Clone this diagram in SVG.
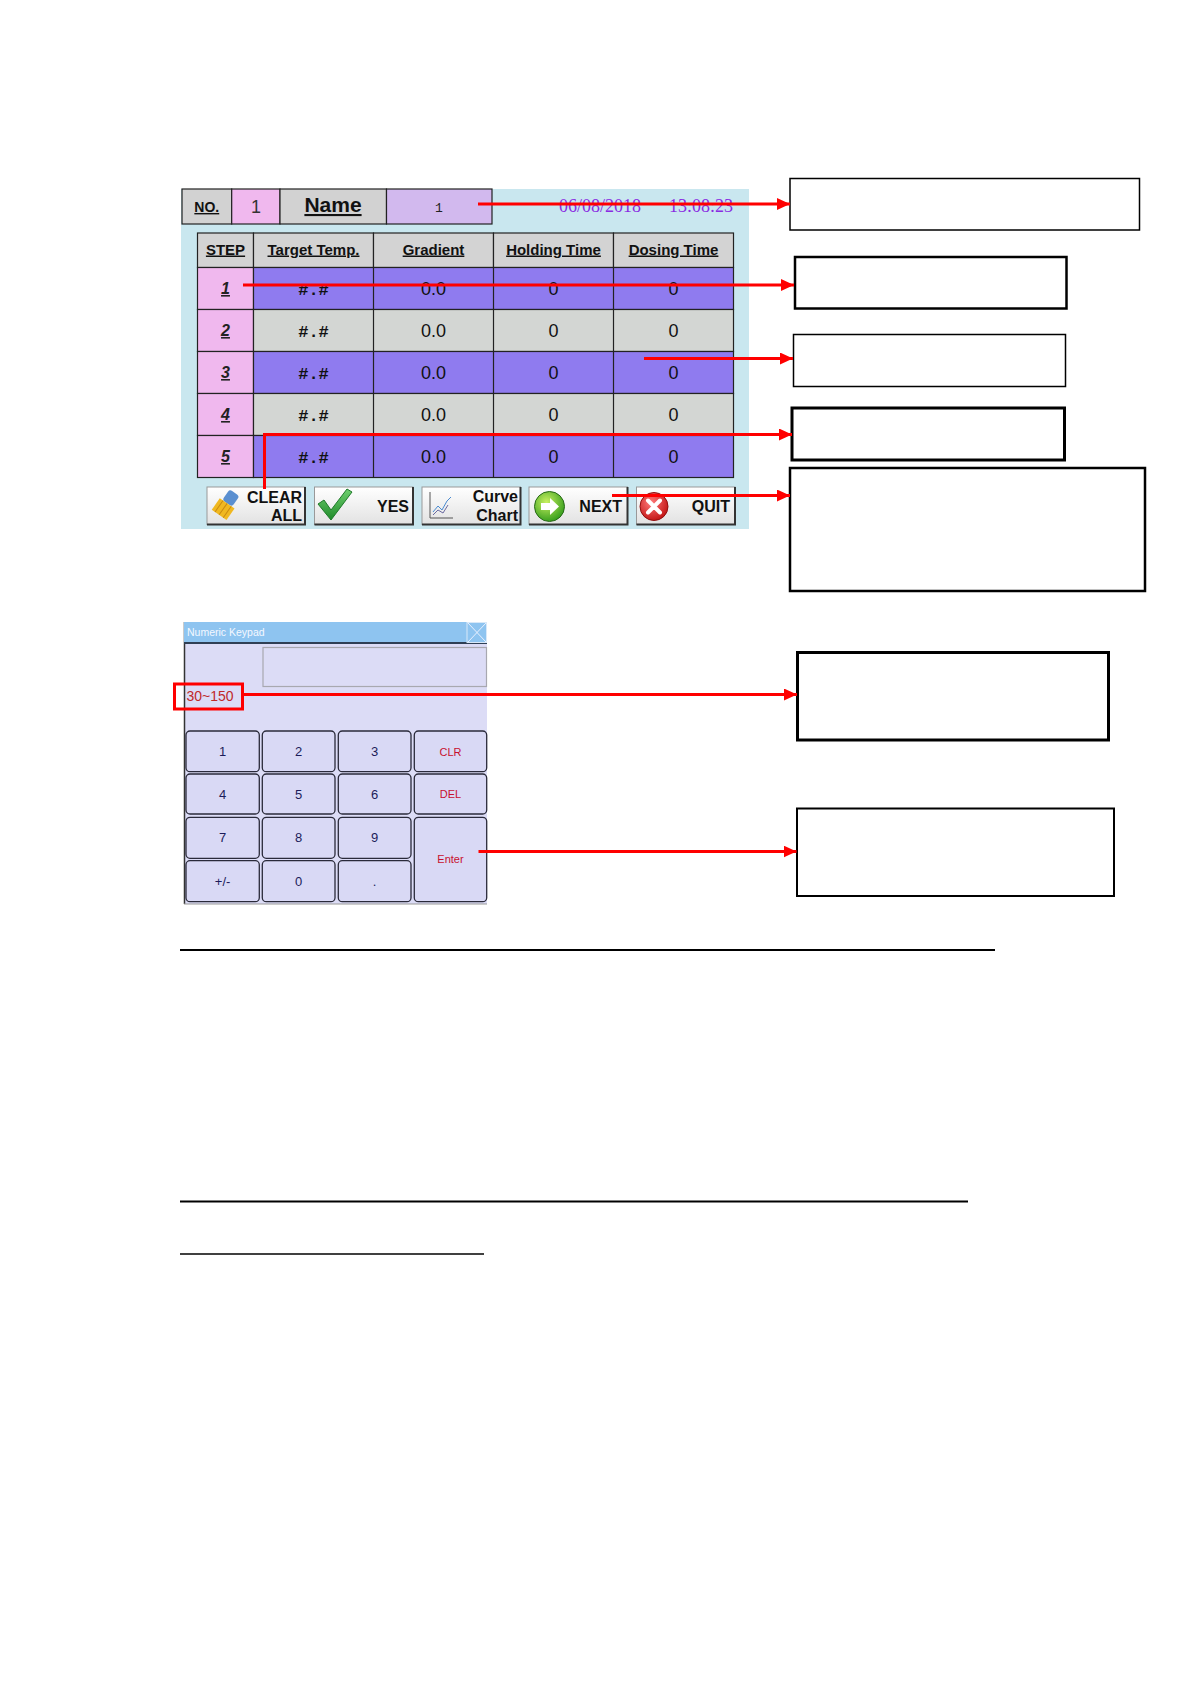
<svg xmlns="http://www.w3.org/2000/svg" width="1191" height="1684" viewBox="0 0 1191 1684">
<style>
.sans{font-family:"Liberation Sans",Arial,sans-serif}
.hd{font-family:"Liberation Sans",Arial,sans-serif;font-weight:bold;font-size:15px;text-decoration:underline;fill:#111;text-anchor:middle}
.step{font-family:"Liberation Sans",Arial,sans-serif;font-weight:bold;font-style:italic;font-size:16px;text-decoration:underline;fill:#222;text-anchor:middle}
.val{font-family:"Liberation Sans",Arial,sans-serif;font-size:18px;fill:#111;text-anchor:middle}
.hash{font-family:"Liberation Mono","Courier New",monospace;font-weight:bold;font-size:17px;fill:#111;text-anchor:middle}
.cell{stroke:#222;stroke-width:1.2}
.btn{fill:url(#bg);stroke:#999;stroke-width:1}
.btxt{font-family:"Liberation Sans",Arial,sans-serif;font-weight:bold;font-size:16px;fill:#111;text-anchor:end}
.key{fill:#d9d9f5;stroke:#2a2a3a;stroke-width:1.3}
.kt{font-family:"Liberation Sans",Arial,sans-serif;font-size:13px;fill:#1c1c5a;text-anchor:middle}
.kr{font-family:"Liberation Sans",Arial,sans-serif;font-size:11px;fill:#c8102e;text-anchor:middle}
.red{stroke:#f00;stroke-width:3;fill:none}
.box{fill:#fff;stroke:#000}
</style>
<defs>
<marker id="ah" markerWidth="13" markerHeight="12" refX="13" refY="6" orient="auto" markerUnits="userSpaceOnUse">
<path d="M0,0 L13,6 L0,12 z" fill="#f00"/>
</marker>
<linearGradient id="bg" x1="0" y1="0" x2="0" y2="1">
<stop offset="0" stop-color="#ffffff"/>
<stop offset="1" stop-color="#e2e2e2"/>
</linearGradient>
<linearGradient id="cg" x1="0" y1="0" x2="0" y2="1">
<stop offset="0" stop-color="#6fd06f"/>
<stop offset="1" stop-color="#1f8a2a"/>
</linearGradient>
<radialGradient id="gg" cx="0.4" cy="0.35" r="0.7">
<stop offset="0" stop-color="#c8f060"/>
<stop offset="1" stop-color="#2f9a1a"/>
</radialGradient>
<radialGradient id="rg" cx="0.4" cy="0.35" r="0.7">
<stop offset="0" stop-color="#ff7a7a"/>
<stop offset="1" stop-color="#c01010"/>
</radialGradient>
</defs>
<rect x="0" y="0" width="1191" height="1684" fill="#fff"/>

<g id="screen-panel">
<rect x="181" y="189" width="568" height="340" fill="#c9e7ef"/>
</g>

<g id="header-row">
<rect x="182" y="189" width="49.7" height="35" fill="#d2d2d2" class="cell"/>
<rect x="231.7" y="189" width="48.3" height="35" fill="#f0b8ee" class="cell"/>
<rect x="280" y="189" width="106.5" height="35" fill="#d2d2d2" class="cell"/>
<rect x="386.5" y="189" width="105.5" height="35" fill="#d2b9ee" class="cell"/>
<text x="206.8" y="212" class="sans" font-size="14" font-weight="bold" text-decoration="underline" text-anchor="middle" fill="#111">NO.</text>
<text x="256" y="213" class="sans" font-size="18" text-anchor="middle" fill="#333">1</text>
<text x="333" y="212" class="sans" font-size="21" font-weight="bold" text-decoration="underline" text-anchor="middle" fill="#111">Name</text>
<text x="439" y="212" font-family="Liberation Mono,monospace" font-size="13" text-anchor="middle" fill="#222">1</text>
</g>

<g id="datetime">
<text x="559" y="212" font-family="Liberation Serif,'Times New Roman',serif" font-size="18" fill="#8a2be2">06/08/2018</text>
<text x="669" y="212" font-family="Liberation Serif,'Times New Roman',serif" font-size="18" fill="#8a2be2">13:08:23</text>
</g>

<g id="step-table">
<rect x="197.5" y="233" width="56" height="34.5" fill="#d3d3d3" class="cell"/>
<rect x="253.5" y="233" width="120" height="34.5" fill="#d3d3d3" class="cell"/>
<rect x="373.5" y="233" width="120" height="34.5" fill="#d3d3d3" class="cell"/>
<rect x="493.5" y="233" width="120" height="34.5" fill="#d3d3d3" class="cell"/>
<rect x="613.5" y="233" width="120" height="34.5" fill="#d3d3d3" class="cell"/>
<text x="225.5" y="254.5" class="hd">STEP</text>
<text x="313.5" y="254.5" class="hd">Target Temp.</text>
<text x="433.5" y="254.5" class="hd">Gradient</text>
<text x="553.5" y="254.5" class="hd">Holding Time</text>
<text x="673.5" y="254.5" class="hd">Dosing Time</text>

<g id="row1">
<rect x="197.5" y="267.5" width="56" height="42" fill="#f0b8ee" class="cell"/>
<rect x="253.5" y="267.5" width="480" height="42" fill="#8f7bef" class="cell"/>
<line x1="373.5" y1="267.5" x2="373.5" y2="309.5" class="cell"/><line x1="493.5" y1="267.5" x2="493.5" y2="309.5" class="cell"/><line x1="613.5" y1="267.5" x2="613.5" y2="309.5" class="cell"/>
<text x="225.5" y="294" class="step">1</text>
<text x="313.5" y="295" class="hash">#.#</text><text x="433.5" y="295" class="val">0.0</text><text x="553.5" y="295" class="val">0</text><text x="673.5" y="295" class="val">0</text>
</g>
<g id="row2">
<rect x="197.5" y="309.5" width="56" height="42" fill="#f0b8ee" class="cell"/>
<rect x="253.5" y="309.5" width="480" height="42" fill="#d3d6d3" class="cell"/>
<line x1="373.5" y1="309.5" x2="373.5" y2="351.5" class="cell"/><line x1="493.5" y1="309.5" x2="493.5" y2="351.5" class="cell"/><line x1="613.5" y1="309.5" x2="613.5" y2="351.5" class="cell"/>
<text x="225.5" y="336" class="step">2</text>
<text x="313.5" y="337" class="hash">#.#</text><text x="433.5" y="337" class="val">0.0</text><text x="553.5" y="337" class="val">0</text><text x="673.5" y="337" class="val">0</text>
</g>
<g id="row3">
<rect x="197.5" y="351.5" width="56" height="42" fill="#f0b8ee" class="cell"/>
<rect x="253.5" y="351.5" width="480" height="42" fill="#8f7bef" class="cell"/>
<line x1="373.5" y1="351.5" x2="373.5" y2="393.5" class="cell"/><line x1="493.5" y1="351.5" x2="493.5" y2="393.5" class="cell"/><line x1="613.5" y1="351.5" x2="613.5" y2="393.5" class="cell"/>
<text x="225.5" y="378" class="step">3</text>
<text x="313.5" y="379" class="hash">#.#</text><text x="433.5" y="379" class="val">0.0</text><text x="553.5" y="379" class="val">0</text><text x="673.5" y="379" class="val">0</text>
</g>
<g id="row4">
<rect x="197.5" y="393.5" width="56" height="42" fill="#f0b8ee" class="cell"/>
<rect x="253.5" y="393.5" width="480" height="42" fill="#d3d6d3" class="cell"/>
<line x1="373.5" y1="393.5" x2="373.5" y2="435.5" class="cell"/><line x1="493.5" y1="393.5" x2="493.5" y2="435.5" class="cell"/><line x1="613.5" y1="393.5" x2="613.5" y2="435.5" class="cell"/>
<text x="225.5" y="420" class="step">4</text>
<text x="313.5" y="421" class="hash">#.#</text><text x="433.5" y="421" class="val">0.0</text><text x="553.5" y="421" class="val">0</text><text x="673.5" y="421" class="val">0</text>
</g>
<g id="row5">
<rect x="197.5" y="435.5" width="56" height="42" fill="#f0b8ee" class="cell"/>
<rect x="253.5" y="435.5" width="480" height="42" fill="#8f7bef" class="cell"/>
<line x1="373.5" y1="435.5" x2="373.5" y2="477.5" class="cell"/><line x1="493.5" y1="435.5" x2="493.5" y2="477.5" class="cell"/><line x1="613.5" y1="435.5" x2="613.5" y2="477.5" class="cell"/>
<text x="225.5" y="462" class="step">5</text>
<text x="313.5" y="463" class="hash">#.#</text><text x="433.5" y="463" class="val">0.0</text><text x="553.5" y="463" class="val">0</text><text x="673.5" y="463" class="val">0</text>
</g>
</g>

<g id="btn-clear-all">
<rect x="207" y="487" width="98" height="37.5" class="btn"/>
<polyline points="207,524.5 305,524.5 305,487" fill="none" stroke="#333" stroke-width="2"/>
<g transform="rotate(35 226 505)">
<rect x="220" y="490" width="12" height="13" rx="3" fill="#5a8fd0"/>
<rect x="217" y="503" width="18" height="14" fill="#f0b820"/>
<line x1="221" y1="503" x2="221" y2="517" stroke="#c88a10"/><line x1="226" y1="503" x2="226" y2="517" stroke="#c88a10"/><line x1="231" y1="503" x2="231" y2="517" stroke="#c88a10"/>
</g>
<text x="302" y="503" class="btxt">CLEAR</text>
<text x="302" y="521" class="btxt">ALL</text>
</g>
<g id="btn-yes">
<rect x="314.5" y="487" width="98.5" height="37.5" class="btn"/>
<polyline points="314.5,524.5 413,524.5 413,487" fill="none" stroke="#333" stroke-width="2"/>
<path d="M318,504 L324,500 L331,510 L347,489 L352,492 L331,520 z" fill="url(#cg)" stroke="#1f7a2a" stroke-width="1" stroke-linejoin="round"/>
<text x="409" y="512" class="btxt">YES</text>
</g>
<g id="btn-curve-chart">
<rect x="422" y="487" width="98.5" height="37.5" class="btn"/>
<polyline points="422,524.5 520.5,524.5 520.5,487" fill="none" stroke="#333" stroke-width="2"/>
<polyline points="430,492 430,518 453,518" fill="none" stroke="#555" stroke-width="1"/>
<polyline points="433,512 438,506 442,510 447,501 451,497" fill="none" stroke="#4a8ad0" stroke-width="1"/>
<polyline points="433,515 438,510 443,513 448,505" fill="none" stroke="#6a6aa0" stroke-width="1"/>
<text x="518" y="502" class="btxt">Curve</text>
<text x="518" y="521" class="btxt">Chart</text>
</g>
<g id="btn-next">
<rect x="529" y="487" width="98.5" height="37.5" class="btn"/>
<polyline points="529,524.5 627.5,524.5 627.5,487" fill="none" stroke="#333" stroke-width="2"/>
<circle cx="549.5" cy="506.5" r="15" fill="url(#gg)" stroke="#2a6a1a" stroke-width="1"/>
<path d="M541,503 L550,503 L550,498 L559,506.5 L550,515 L550,510 L541,510 z" fill="#fff"/>
<text x="622" y="512" class="btxt">NEXT</text>
</g>
<g id="btn-quit">
<rect x="636.5" y="487" width="98.5" height="37.5" class="btn"/>
<polyline points="636.5,524.5 735,524.5 735,487" fill="none" stroke="#333" stroke-width="2"/>
<circle cx="654" cy="506.5" r="14" fill="url(#rg)" stroke="#901010" stroke-width="1"/>
<path d="M648,500.5 L660,512.5 M660,500.5 L648,512.5" stroke="#fff" stroke-width="4" stroke-linecap="round"/>
<text x="730" y="512" class="btxt">QUIT</text>
</g>

<g id="numeric-keypad">
<rect x="184" y="622" width="303" height="282" fill="#dcdcf6"/>
<line x1="184.5" y1="622" x2="184.5" y2="904" stroke="#333" stroke-width="1.5"/>
<line x1="184" y1="904" x2="487" y2="904" stroke="#999" stroke-width="1"/>
<rect x="184" y="622" width="303" height="21" fill="#8ec4f0"/>
<line x1="184" y1="643" x2="487" y2="643" stroke="#2f3f55" stroke-width="2"/>
<rect x="467" y="622.5" width="19.5" height="20" fill="none" stroke="#d8e8f8" stroke-width="1"/>
<path d="M468,623 L486,642 M486,623 L468,642" stroke="#e8f0ff" stroke-width="1"/>
<text x="187" y="636" class="sans" font-size="10.5" fill="#f4f8ff">Numeric Keypad</text>
<rect x="263" y="647.5" width="223.5" height="39" fill="#dcdcf6" stroke="#a8a8b0" stroke-width="1.2"/>
<text x="186.5" y="701" class="sans" font-size="14" fill="#c0282a">30~150</text>
<rect x="174.5" y="684" width="68" height="25" fill="none" stroke="#f00" stroke-width="3"/>
<rect x="186" y="731" width="73.3" height="40.7" rx="4" class="key"/>
<rect x="262.3" y="731" width="72.7" height="40.7" rx="4" class="key"/>
<rect x="338.3" y="731" width="72.7" height="40.7" rx="4" class="key"/>
<rect x="414.3" y="731" width="72.4" height="40.7" rx="4" class="key"/>
<rect x="186" y="774" width="73.3" height="40" rx="4" class="key"/>
<rect x="262.3" y="774" width="72.7" height="40" rx="4" class="key"/>
<rect x="338.3" y="774" width="72.7" height="40" rx="4" class="key"/>
<rect x="414.3" y="774" width="72.4" height="40" rx="4" class="key"/>
<rect x="186" y="817.3" width="73.3" height="41" rx="4" class="key"/>
<rect x="262.3" y="817.3" width="72.7" height="41" rx="4" class="key"/>
<rect x="338.3" y="817.3" width="72.7" height="41" rx="4" class="key"/>
<rect x="414.3" y="817.3" width="72.4" height="84.4" rx="4" class="key"/>
<rect x="186" y="860.7" width="73.3" height="41" rx="4" class="key"/>
<rect x="262.3" y="860.7" width="72.7" height="41" rx="4" class="key"/>
<rect x="338.3" y="860.7" width="72.7" height="41" rx="4" class="key"/>
<text x="222.6" y="756" class="kt">1</text>
<text x="298.6" y="756" class="kt">2</text>
<text x="374.6" y="756" class="kt">3</text>
<text x="450.5" y="755.5" class="kr">CLR</text>
<text x="222.6" y="798.5" class="kt">4</text>
<text x="298.6" y="798.5" class="kt">5</text>
<text x="374.6" y="798.5" class="kt">6</text>
<text x="450.5" y="798" class="kr">DEL</text>
<text x="222.6" y="842" class="kt">7</text>
<text x="298.6" y="842" class="kt">8</text>
<text x="374.6" y="842" class="kt">9</text>
<text x="450.5" y="863" class="kr">Enter</text>
<text x="222.6" y="885.5" class="kt">+/-</text>
<text x="298.6" y="885.5" class="kt">0</text>
<text x="374.6" y="885.5" class="kt">.</text>
</g>

<g id="callout-boxes">
<rect id="box1" x="790" y="178.5" width="349.5" height="51.5" class="box" stroke-width="1.5"/>
<rect id="box2" x="795" y="257" width="271.5" height="51.5" class="box" stroke-width="2.5"/>
<rect id="box3" x="793.5" y="334.5" width="272" height="52" class="box" stroke-width="1.5"/>
<rect id="box4" x="792" y="408" width="272.5" height="52" class="box" stroke-width="3"/>
<rect id="box5" x="790" y="468" width="355" height="123" class="box" stroke-width="2.5"/>
<rect id="box6" x="797.5" y="652.5" width="311" height="87.5" class="box" stroke-width="3"/>
<rect id="box7" x="797" y="808.5" width="317" height="87.5" class="box" stroke-width="2"/>
</g>

<g id="connectors">
<line x1="478" y1="204" x2="790" y2="204" class="red" marker-end="url(#ah)"/>
<line x1="243" y1="285" x2="794" y2="285" class="red" marker-end="url(#ah)"/>
<line x1="644" y1="358.5" x2="793" y2="358.5" class="red" marker-end="url(#ah)"/>
<polyline points="264.5,489 264.5,434.5 792,434.5" class="red" marker-end="url(#ah)"/>
<line x1="612" y1="495.5" x2="790" y2="495.5" class="red" marker-end="url(#ah)"/>
<line x1="243" y1="694.5" x2="797" y2="694.5" class="red" marker-end="url(#ah)"/>
<line x1="478.5" y1="851.5" x2="796.5" y2="851.5" class="red" marker-end="url(#ah)"/>
</g>

<g id="rules">
<line x1="180" y1="950" x2="995" y2="950" stroke="#000" stroke-width="2"/>
<line x1="180" y1="1201.5" x2="968" y2="1201.5" stroke="#000" stroke-width="2"/>
<line x1="180" y1="1254" x2="484" y2="1254" stroke="#000" stroke-width="1.5"/>
</g>
</svg>
